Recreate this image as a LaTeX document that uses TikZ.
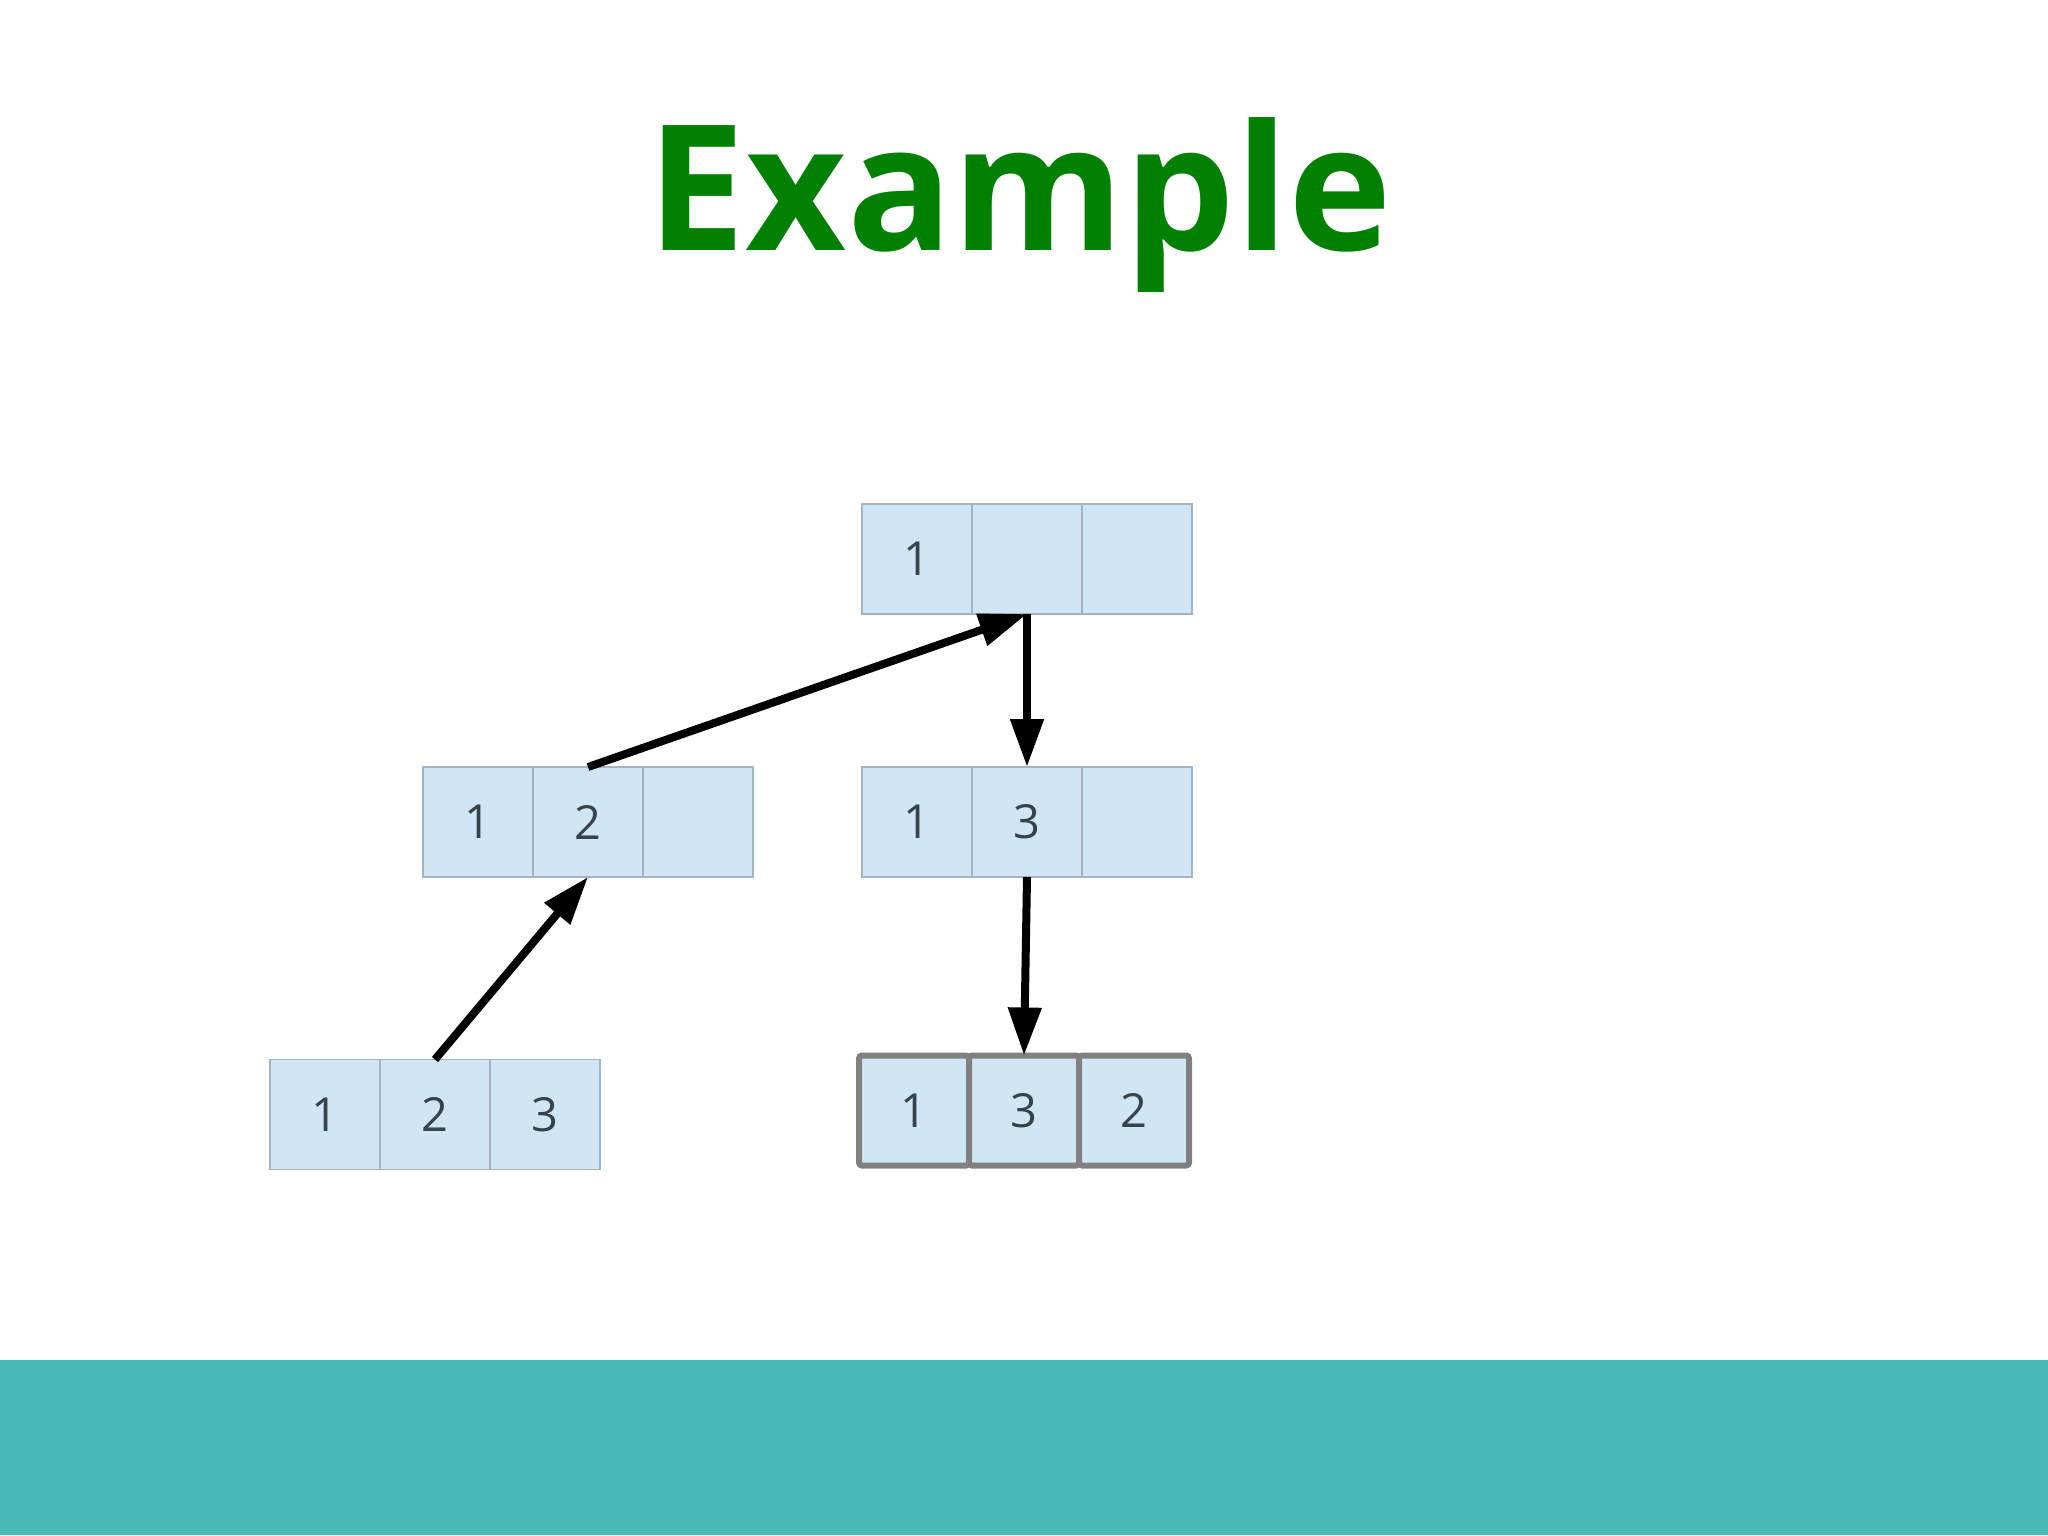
\documentclass[tikz,border=0pt]{standalone}
\usepackage{fontspec}
\setmainfont{Open Sans}
\usetikzlibrary{positioning, arrows.meta}
\definecolor{titlegreen}{HTML}{008000}
\definecolor{cellblue}{HTML}{D0E6F5}
\definecolor{cellline}{HTML}{A3B3BF}
\definecolor{digitgray}{HTML}{37434C}
\definecolor{bandteal}{HTML}{48B8B5}
\definecolor{donegray}{HTML}{808080}

\begin{document}
\begin{tikzpicture}[x = 0.5pt, y = -0.5pt, line width = 4pt,
                    cell/.style  = {rectangle, draw = cellline, line width = 0.6pt, fill = cellblue, minimum size = 55pt, inner sep = 0pt, outer sep = 0pt, text = digitgray, font = \fontsize{23.5}{23.5}\selectfont},
                    done/.style  = {cell, draw = donegray, line width = 3pt, rounded corners = 1.5pt},
                    step arrow/.style = {-{Triangle[length = 24pt, width = 16pt]}}
                    ]
    \useasboundingbox (0, 0) rectangle (2048, 1535);
    \fill[bandteal] (0, 1360) rectangle (2048, 1535);

    \node[anchor = base, text = titlegreen, font = \fontsize{87.5}{87.5}\selectfont\bfseries] (title) at (1020, 251) {Example};

    % top
    \node[cell] (t1) at (917, 559) {1};
    \node[cell, right = 0pt of t1] (t2) {};
    \node[cell, right = 0pt of t2] (t3) {};

    % middle
    \node[cell] (l1) at (478, 822) {1};
    \node[cell, right = 0pt of l1] (l2) {2};
    \node[cell, right = 0pt of l2] (l3) {};

    \node[cell] (r1) at (917, 822) {1};
    \node[cell, right = 0pt of r1] (r2) {3};
    \node[cell, right = 0pt of r2] (r3) {};

    % bottom
    \node[cell] (b1) at (325, 1114.5) {1};
    \node[cell, right = 0pt of b1] (b2) {2};
    \node[cell, right = 0pt of b2] (b3) {3};

    \node[done] (s1) at (914, 1110.5) {1};
    \node[done, right = 0pt of s1] (s2) {3};
    \node[done, right = 0pt of s2] (s3) {2};

    \draw[step arrow] (l2.north) -- (t2.south);
    \draw[step arrow] (t2.south) -- (r2.north);
    \draw[step arrow] (b2.north) -- (l2.south);
    \draw[step arrow] (r2.south) -- (s2.north);
\end{tikzpicture}
\end{document}
